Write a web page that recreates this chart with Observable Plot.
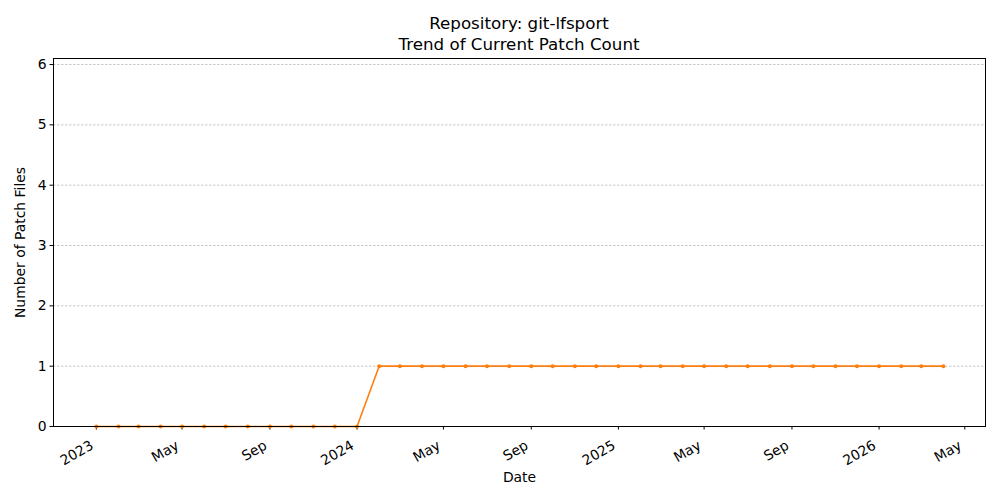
<!DOCTYPE html>
<html>
<head>
<meta charset="utf-8">
<script src="https://cdn.jsdelivr.net/npm/d3@7"></script>
<script src="https://cdn.jsdelivr.net/npm/@observablehq/plot@0.6"></script>
<style>
  html, body { margin: 0; padding: 0; background: #fff; overflow: hidden; }
  #wrap { position: relative; width: 1000px; height: 500px; font-family: "DejaVu Sans", sans-serif; }
  #title { position: absolute; left: 53px; width: 932px; top: 12.5px; text-align: center; font-size: 16.7px; line-height: 21px; color: #000; }
  #chart { position: absolute; left: 0; top: 0; }
  #chart svg text { font-size: 13.9px; font-family: "DejaVu Sans", sans-serif; }
</style>
</head>
<body>
<div id="wrap">
  <div id="chart"></div>
  <div id="title">Repository: git-lfsport<br>Trend of Current Patch Count</div>
</div>
<script>
const dates = [
  "2023-01-01","2023-02-01","2023-03-01","2023-04-01","2023-05-01","2023-06-01","2023-07-01","2023-08-01","2023-09-01","2023-10-01","2023-11-01","2023-12-01",
  "2024-01-01","2024-02-01","2024-03-01","2024-04-01","2024-05-01","2024-06-01","2024-07-01","2024-08-01","2024-09-01","2024-10-01","2024-11-01","2024-12-01",
  "2025-01-01","2025-02-01","2025-03-01","2025-04-01","2025-05-01","2025-06-01","2025-07-01","2025-08-01","2025-09-01","2025-10-01","2025-11-01","2025-12-01",
  "2026-01-01","2026-02-01","2026-03-01","2026-04-01"
];
const patchCounts = [
  0,0,0,0,0,0,0,0,0,0,0,0,
  0,1,1,1,1,1,1,1,1,1,1,1,
  1,1,1,1,1,1,1,1,1,1,1,1,
  1,1,1,1
];
const xTicks = ["2023-01-01","2023-05-01","2023-09-01","2024-01-01","2024-05-01","2024-09-01","2025-01-01","2025-05-01","2025-09-01","2026-01-01","2026-05-01"];
const xTickLabels = ["2023","May","Sep","2024","May","Sep","2025","May","Sep","2026","May"];
const yTicks = [0,1,2,3,4,5,6];
const xDomain = ["2022-11-02","2026-05-30"];
const yDomain = [0, 6.1];

const data = dates.map((d, i) => ({date: new Date(d), value: patchCounts[i]}));
const tickData = xTicks.map((d, i) => ({date: new Date(d), label: xTickLabels[i]}));

const plot = Plot.plot({
  width: 1000,
  height: 500,
  marginLeft: 53,
  marginRight: 15,
  marginTop: 58,
  marginBottom: 74,
  style: { fontFamily: "DejaVu Sans, sans-serif", fontSize: "13.9px", color: "#000", background: "#fff" },
  x: { type: "utc", domain: xDomain.map(d => new Date(d)) },
  y: { domain: yDomain },
  marks: [
    Plot.ruleY(yTicks.filter(v => v > 0), { stroke: "#b0b0b0", strokeWidth: 0.7, strokeDasharray: "2.5,1.5" }),
    Plot.axisY({ ticks: yTicks, tickFormat: d3.format("d"), tickSize: 3.5, tickPadding: 3.5, label: null }),
    Plot.axisX({ ticks: xTicks.map(d => new Date(d)), tickFormat: () => "", tickSize: 3.5, label: null }),
    Plot.text(tickData, { x: "date", text: "label", frameAnchor: "bottom", textAnchor: "end", lineAnchor: "top", rotate: -30, dx: -7, dy: 13, fill: "#000" }),
    Plot.text(["Number of Patch Files"], { frameAnchor: "left", textAnchor: "middle", dx: -33, rotate: -90, fill: "#000" }),
    Plot.text(["Date"], { frameAnchor: "bottom", dy: 55, fill: "#000" }),
    Plot.line(data, { x: "date", y: "value", stroke: "#ff7f0e", strokeWidth: 1.6 }),
    Plot.dot(data, { x: "date", y: "value", r: 2, fill: "#ff7f0e", stroke: "none" }),
    Plot.frame({ stroke: "#000", strokeWidth: 1 })
  ]
});
document.getElementById("chart").appendChild(plot);
</script>
</body>
</html>
